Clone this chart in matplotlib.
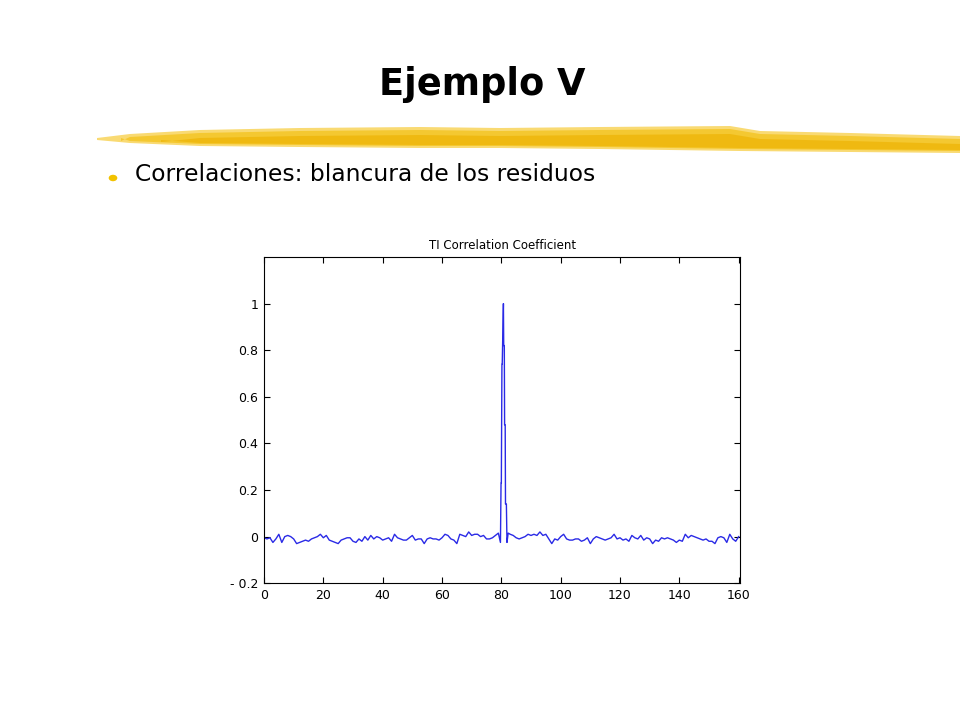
import numpy as np
import matplotlib
matplotlib.use("Agg")
from matplotlib import pyplot as plt
from matplotlib.patches import Polygon, Circle

# correlation of residuals
lag_left = np.arange(0, 80)
val_left = [-0.005, -0.01, -0.005, -0.025, -0.01, 0.01, -0.025, 0.0, 0.005, 0.0,
            -0.01, -0.03, -0.025, -0.02, -0.015, -0.02, -0.01, -0.005, 0.0, 0.01,
            -0.005, 0.005, -0.015, -0.02, -0.025, -0.03, -0.015, -0.01, -0.005, -0.005,
            -0.02, -0.025, -0.01, -0.02, 0.0, -0.015, 0.005, -0.01, 0.0, -0.005,
            -0.015, -0.01, -0.005, -0.02, 0.01, -0.005, -0.01, -0.015, -0.015, -0.005,
            0.005, -0.015, -0.01, -0.01, -0.03, -0.01, -0.005, -0.01, -0.01, -0.015,
            -0.005, 0.01, 0.005, -0.01, -0.015, -0.03, 0.01, 0.005, 0.0, 0.02,
            0.005, 0.01, 0.01, 0.0, 0.005, -0.01, -0.01, -0.005, 0.005, 0.015]
lag_peak = [79.7, 79.9, 80.0, 80.2, 80.3, 80.7, 80.8, 81.0, 81.1, 81.3, 81.4, 81.7, 81.9, 82.3]
val_peak = [-0.025, 0.23, 0.23, 0.74, 0.74, 1.0, 0.82, 0.82, 0.48, 0.48, 0.14, 0.14, -0.025, 0.015]
lag_right = np.arange(83, 161)
val_right = [0.01, 0.005, -0.005, -0.01, -0.005, 0.0, 0.01, 0.005, 0.01, 0.005,
             0.02, 0.005, 0.01, -0.01, -0.03, -0.01, -0.015, 0.0, 0.01, -0.01,
             -0.015, -0.015, -0.01, -0.01, -0.02, -0.015, -0.005, -0.03, -0.01, 0.0,
             -0.005, -0.01, -0.015, -0.01, -0.005, 0.01, -0.01, -0.005, -0.015, -0.01,
             -0.02, 0.005, -0.005, -0.01, 0.005, -0.015, -0.005, -0.01, -0.03, -0.015,
             -0.02, -0.005, -0.01, -0.005, -0.01, -0.015, -0.025, -0.015, -0.02, 0.01,
             -0.005, 0.005, 0.0, -0.005, -0.01, -0.015, -0.01, -0.02, -0.02, -0.03,
             -0.005, 0.0, -0.005, -0.025, 0.01, -0.01, -0.02, 0.0]

lags = np.concatenate([lag_left, lag_peak, lag_right])
corr = np.concatenate([val_left, val_peak, val_right])

x_ticks = [0, 20, 40, 60, 80, 100, 120, 140, 160]
y_ticks = [-0.2, 0, 0.2, 0.4, 0.6, 0.8, 1]
y_labels = ["- 0.2", "0", "0.2", "0.4", "0.6", "0.8", "1"]

fig = plt.figure(figsize=(9.6, 7.2), dpi=100)
fig.patch.set_facecolor("white")

# slide title and bullet
fig.text(0.502, 0.882, "Ejemplo V", ha="center", va="center",
         fontsize=26.5, fontweight="heavy", family="DejaVu Sans")
fig.text(0.141, 0.757, "Correlaciones: blancura de los residuos", ha="left", va="center",
         fontsize=16.8, family="DejaVu Sans")
fig.patches.append(Circle((113/960, 1-178/720), 0.0045, transform=fig.transFigure,
                          facecolor="#f2c200", edgecolor="none"))

# yellow brush stroke under the title (pixel outline, y down)
top_x = [97, 130, 200, 300, 420, 500, 600, 730, 760, 850, 960]
top_y = [138, 134, 130, 128, 127, 128, 127, 126, 131, 133, 136]
bot_x = [960, 850, 740, 600, 500, 420, 300, 200, 130, 97]
bot_y = [153, 152, 151, 149, 148, 148, 147, 146, 143, 140]
layers = [("#f8d45a", 0, 0), ("#f4c526", 3, 2), ("#efb70c", 8, 3)]
for shade, dt, db in layers:
    pts = [(x/960, 1-(y+dt)/720) for x, y in zip(top_x, top_y)]
    pts += [(x/960, 1-(y-db)/720) for x, y in zip(bot_x, bot_y)]
    pts = [(max(p[0], (97+dt*8)/960), p[1]) for p in pts]
    fig.patches.append(Polygon(pts, closed=True, transform=fig.transFigure,
                               facecolor=shade, edgecolor="none", alpha=0.85))

ax = fig.add_axes([0.275, 0.190, 0.496, 0.453])
ax.plot(lags, corr, color="#2a2ae6", lw=1.0)
ax.set_xlim(0, 160.5)
ax.set_ylim(-0.2, 1.2)
ax.set_xticks(x_ticks)
ax.set_yticks(y_ticks)
ax.set_yticklabels(y_labels)
ax.tick_params(direction="in", top=True, right=True, length=4, width=0.8,
               labelsize=9, pad=4)
for s in ax.spines.values():
    s.set_linewidth(0.8)
ax.set_title("TI Correlation Coefficient", fontsize=8.5, pad=6)

fig.savefig("out.png", dpi=100)
